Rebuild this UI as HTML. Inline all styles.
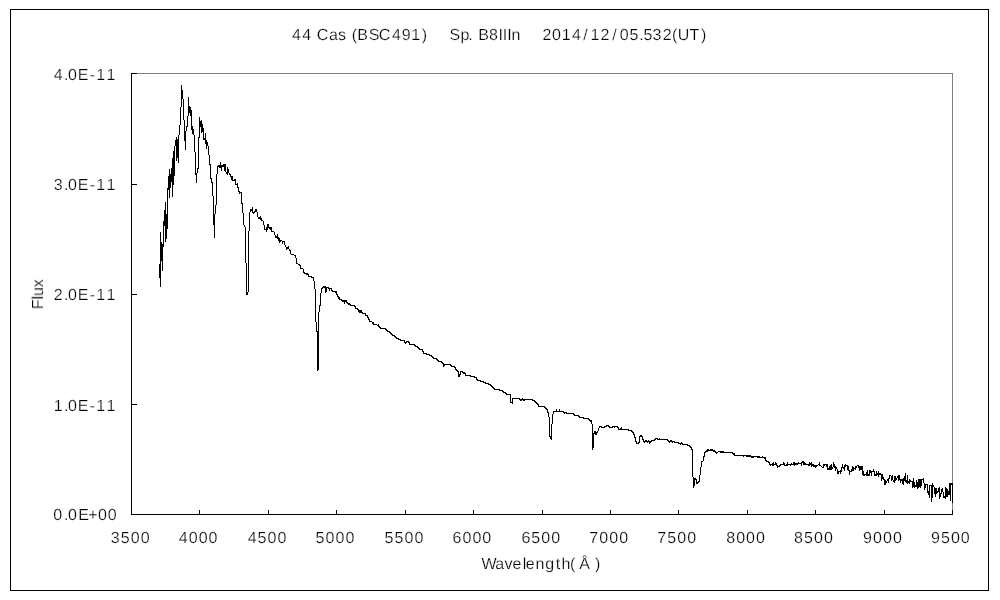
<!DOCTYPE html>
<html><head><meta charset="utf-8"><title>44 Cas spectrum</title>
<style>
html,body{margin:0;padding:0;background:#fff;}
body{width:1000px;height:600px;overflow:hidden;font-family:"Liberation Sans",sans-serif;}
svg{display:block;}
</style></head><body>
<svg width="1000" height="600" viewBox="0 0 1000 600">
<rect x="0" y="0" width="1000" height="600" fill="#fff"/>
<g shape-rendering="crispEdges" fill="none">
<rect x="10.5" y="9.5" width="978" height="581" stroke="#000" stroke-width="1"/>
<path d="M131 73.5 H953 M952.5 73 V515" stroke="#808080" stroke-width="1"/>
<path d="M131.5 73 V515 M131 514.5 H953" stroke="#000" stroke-width="1"/>
<path d="M131 73.5 H137 M131 184.5 H137 M131 294.5 H137 M131 404.5 H137 M131 514.5 H137 M131.5 510 V515 M199.5 510 V515 M268.5 510 V515 M336.5 510 V515 M405.5 510 V515 M473.5 510 V515 M542.5 510 V515 M610.5 510 V515 M678.5 510 V515 M747.5 510 V515 M815.5 510 V515 M884.5 510 V515 M952.5 510 V515 " stroke="#000" stroke-width="1"/>
</g>
<path d="M159 264v14h1v-14zM160 232v55h1v-55zM161 242v19h1v-19zM162 244v27h1v-27zM163 221v26h1v-26zM164 210v16h1v-16zM165 202v40h1v-40zM166 214v25h1v-25zM167 188v41h1v-41zM168 176v14h1v-14zM169 169v29h1v-29zM170 174v14h1v-14zM171 168v14h1v-14zM172 158v39h1v-39zM173 151v34h1v-34zM174 146v30h1v-30zM175 140v6h1v-6zM176 137v24h1v-24zM177 139v19h1v-19zM178 135v28h1v-28zM179 125v10h1v-10zM180 107v18h1v-18zM181 85v22h1v-22zM182 90v9h1v-9zM183 99v21h1v-21zM184 120v21h1v-21zM185 131v19h1v-19zM186 126v5h1v-5zM187 116v11h1v-11zM188 97v19h1v-19zM189 106v7h1v-7zM190 107v9h1v-9zM191 110v20h1v-20zM192 126v8h1v-8zM193 129v6h1v-6zM194 135v17h1v-17zM195 152v23h1v-23zM196 173v10h1v-10zM197 168v5h1v-5zM198 137v32h1v-32zM199 117v21h1v-21zM200 121v6h1v-6zM201 120v13h1v-13zM202 124v8h1v-8zM203 128v12h1v-12zM204 138v2h1v-2zM205 133v11h1v-11zM206 140v9h1v-9zM207 142v4h1v-4zM208 146v9h1v-9zM209 155v10h1v-10zM210 164v15h1v-15zM211 178v5h1v-5zM212 182v14h1v-14zM213 196v29h1v-29zM214 214v24h1v-24zM215 205v9h1v-9zM216 174v31h1v-31zM217 166v8h1v-8zM218 165v2h1v-2zM219 165v3h1v-3zM220 162v6h1v-6zM221 165v6h1v-6zM222 165v2h1v-2zM223 164v3h1v-3zM224 164v7h1v-7zM225 164v8h1v-8zM226 172v2h1v-2zM227 167v8h1v-8zM228 169v4h1v-4zM229 173v2h1v-2zM230 174v3h1v-3zM231 176v4h1v-4zM232 176v5h1v-5zM233 180v1h1v-1zM234 179v2h1v-2zM235 179v6h1v-6zM236 184v1h1v-1zM237 183v5h1v-5zM238 187v5h1v-5zM239 191v3h1v-3zM240 192v1h1v-1zM241 192v12h1v-12zM242 203v10h1v-10zM243 213v12h1v-12zM244 225v2h1v-2zM245 227v36h1v-36zM246 263v32h1v-32zM247 292v3h1v-3zM248 231v61h1v-61zM249 212v19h1v-19zM250 209v3h1v-3zM251 209v2h1v-2zM252 207v6h1v-6zM253 212v2h1v-2zM254 211v2h1v-2zM255 209v3h1v-3zM256 209v3h1v-3zM257 212v5h1v-5zM258 217v2h1v-2zM259 217v2h1v-2zM260 216v4h1v-4zM261 218v3h1v-3zM262 220v1h1v-1zM263 221v4h1v-4zM264 225v5h1v-5zM265 229v1h1v-1zM266 227v5h1v-5zM267 224v6h1v-6zM268 224v4h1v-4zM269 227v2h1v-2zM270 227v3h1v-3zM271 227v5h1v-5zM272 231v1h1v-1zM273 231v1h1v-1zM274 232v3h1v-3zM275 235v3h1v-3zM276 236v2h1v-2zM277 234v5h1v-5zM278 237v4h1v-4zM279 238v5h1v-5zM280 240v2h1v-2zM281 240v1h1v-1zM282 241v3h1v-3zM283 241v1h1v-1zM284 241v4h1v-4zM285 245v2h1v-2zM286 247v3h1v-3zM287 247v2h1v-2zM288 246v3h1v-3zM289 249v2h1v-2zM290 250v4h1v-4zM291 254v1h1v-1zM292 254v1h1v-1zM293 254v1h1v-1zM294 255v1h1v-1zM295 255v3h1v-3zM296 258v6h1v-6zM297 263v1h1v-1zM298 264v1h1v-1zM299 264v2h1v-2zM300 265v4h1v-4zM301 268v1h1v-1zM302 268v1h1v-1zM303 269v4h1v-4zM304 272v2h1v-2zM305 273v1h1v-1zM306 273v2h1v-2zM307 273v2h1v-2zM308 274v3h1v-3zM309 276v1h1v-1zM310 276v1h1v-1zM311 276v2h1v-2zM312 277v1h1v-1zM313 277v4h1v-4zM314 281v8h1v-8zM315 289v33h1v-33zM316 322v10h1v-10zM317 331v40h1v-40zM318 312v58h1v-58zM319 305v7h1v-7zM320 293v13h1v-13zM321 288v5h1v-5zM322 287v2h1v-2zM323 286v2h1v-2zM324 286v2h1v-2zM325 286v7h1v-7zM326 287v5h1v-5zM327 287v1h1v-1zM328 287v2h1v-2zM329 288v3h1v-3zM330 288v1h1v-1zM331 288v3h1v-3zM332 290v2h1v-2zM333 291v1h1v-1zM334 291v1h1v-1zM335 291v2h1v-2zM336 291v4h1v-4zM337 294v3h1v-3zM338 296v3h1v-3zM339 297v3h1v-3zM340 299v1h1v-1zM341 299v2h1v-2zM342 300v2h1v-2zM343 300v2h1v-2zM344 300v4h1v-4zM345 300v2h1v-2zM346 300v3h1v-3zM347 302v2h1v-2zM348 303v2h1v-2zM349 303v2h1v-2zM350 304v2h1v-2zM351 305v1h1v-1zM352 305v1h1v-1zM353 305v1h1v-1zM354 305v2h1v-2zM355 306v3h1v-3zM356 308v1h1v-1zM357 308v2h1v-2zM358 309v3h1v-3zM359 310v3h1v-3zM360 310v3h1v-3zM361 310v3h1v-3zM362 312v2h1v-2zM363 313v1h1v-1zM364 313v1h1v-1zM365 313v3h1v-3zM366 315v1h1v-1zM367 315v3h1v-3zM368 317v3h1v-3zM369 319v3h1v-3zM370 321v1h1v-1zM371 321v1h1v-1zM372 322v2h1v-2zM373 322v3h1v-3zM374 324v1h1v-1zM375 324v1h1v-1zM376 324v1h1v-1zM377 325v1h1v-1zM378 324v3h1v-3zM379 326v2h1v-2zM380 327v2h1v-2zM381 328v1h1v-1zM382 328v1h1v-1zM383 328v1h1v-1zM384 328v1h1v-1zM385 328v2h1v-2zM386 329v2h1v-2zM387 330v2h1v-2zM388 331v1h1v-1zM389 331v2h1v-2zM390 332v2h1v-2zM391 333v2h1v-2zM392 334v2h1v-2zM393 335v1h1v-1zM394 335v2h1v-2zM395 336v2h1v-2zM396 337v2h1v-2zM397 338v1h1v-1zM398 338v2h1v-2zM399 339v1h1v-1zM400 339v2h1v-2zM401 340v1h1v-1zM402 340v1h1v-1zM403 340v1h1v-1zM404 340v3h1v-3zM405 342v2h1v-2zM406 341v2h1v-2zM407 341v1h1v-1zM408 341v2h1v-2zM409 342v3h1v-3zM410 344v1h1v-1zM411 344v1h1v-1zM412 344v1h1v-1zM413 344v1h1v-1zM414 344v2h1v-2zM415 345v2h1v-2zM416 346v1h1v-1zM417 346v2h1v-2zM418 347v2h1v-2zM419 348v2h1v-2zM420 349v1h1v-1zM421 349v1h1v-1zM422 349v3h1v-3zM423 351v3h1v-3zM424 353v1h1v-1zM425 353v1h1v-1zM426 353v2h1v-2zM427 354v1h1v-1zM428 354v1h1v-1zM429 354v2h1v-2zM430 355v1h1v-1zM431 355v2h1v-2zM432 356v2h1v-2zM433 357v2h1v-2zM434 358v1h1v-1zM435 358v1h1v-1zM436 358v2h1v-2zM437 359v2h1v-2zM438 360v2h1v-2zM439 361v1h1v-1zM440 361v1h1v-1zM441 361v2h1v-2zM442 362v2h1v-2zM443 363v4h1v-4zM444 364v2h1v-2zM445 364v1h1v-1zM446 364v1h1v-1zM447 364v1h1v-1zM448 364v1h1v-1zM449 364v1h1v-1zM450 364v2h1v-2zM451 365v2h1v-2zM452 366v1h1v-1zM453 366v1h1v-1zM454 366v2h1v-2zM455 367v3h1v-3zM456 369v2h1v-2zM457 370v2h1v-2zM458 371v6h1v-6zM459 374v3h1v-3zM460 371v4h1v-4zM461 371v1h1v-1zM462 371v2h1v-2zM463 372v2h1v-2zM464 372v2h1v-2zM465 373v3h1v-3zM466 375v1h1v-1zM467 375v1h1v-1zM468 375v1h1v-1zM469 375v1h1v-1zM470 375v2h1v-2zM471 376v1h1v-1zM472 376v1h1v-1zM473 376v1h1v-1zM474 376v2h1v-2zM475 377v1h1v-1zM476 377v3h1v-3zM477 379v2h1v-2zM478 380v1h1v-1zM479 380v1h1v-1zM480 380v2h1v-2zM481 381v1h1v-1zM482 381v1h1v-1zM483 381v2h1v-2zM484 382v1h1v-1zM485 382v2h1v-2zM486 383v1h1v-1zM487 383v1h1v-1zM488 383v2h1v-2zM489 384v1h1v-1zM490 384v2h1v-2zM491 385v2h1v-2zM492 386v2h1v-2zM493 387v2h1v-2zM494 388v2h1v-2zM495 389v1h1v-1zM496 389v1h1v-1zM497 389v1h1v-1zM498 389v1h1v-1zM499 389v2h1v-2zM500 390v1h1v-1zM501 390v1h1v-1zM502 390v2h1v-2zM503 391v2h1v-2zM504 392v1h1v-1zM505 392v2h1v-2zM506 393v2h1v-2zM507 394v1h1v-1zM508 394v1h1v-1zM509 394v1h1v-1zM510 394v9h1v-9zM511 402v1h1v-1zM512 398v6h1v-6zM513 398v1h1v-1zM514 398v1h1v-1zM515 398v1h1v-1zM516 398v1h1v-1zM517 398v1h1v-1zM518 398v1h1v-1zM519 398v2h1v-2zM520 399v2h1v-2zM521 399v2h1v-2zM522 398v2h1v-2zM523 399v2h1v-2zM524 399v2h1v-2zM525 399v1h1v-1zM526 399v1h1v-1zM527 399v1h1v-1zM528 399v1h1v-1zM529 399v1h1v-1zM530 399v1h1v-1zM531 399v1h1v-1zM532 399v2h1v-2zM533 400v1h1v-1zM534 400v2h1v-2zM535 401v2h1v-2zM536 402v2h1v-2zM537 403v2h1v-2zM538 404v3h1v-3zM539 406v1h1v-1zM540 406v1h1v-1zM541 406v1h1v-1zM542 406v1h1v-1zM543 406v1h1v-1zM544 406v2h1v-2zM545 407v2h1v-2zM546 408v2h1v-2zM547 409v4h1v-4zM548 412v5h1v-5zM549 417v20h1v-20zM550 436v3h1v-3zM551 424v16h1v-16zM552 414v10h1v-10zM553 411v3h1v-3zM554 411v1h1v-1zM555 411v1h1v-1zM556 409v3h1v-3zM557 411v1h1v-1zM558 411v1h1v-1zM559 409v3h1v-3zM560 411v1h1v-1zM561 411v1h1v-1zM562 411v1h1v-1zM563 411v2h1v-2zM564 412v2h1v-2zM565 412v1h1v-1zM566 412v2h1v-2zM567 413v1h1v-1zM568 413v1h1v-1zM569 413v1h1v-1zM570 413v1h1v-1zM571 413v1h1v-1zM572 413v1h1v-1zM573 413v2h1v-2zM574 414v2h1v-2zM575 415v1h1v-1zM576 415v1h1v-1zM577 415v1h1v-1zM578 415v2h1v-2zM579 416v2h1v-2zM580 417v1h1v-1zM581 417v1h1v-1zM582 417v1h1v-1zM583 417v2h1v-2zM584 418v1h1v-1zM585 418v1h1v-1zM586 418v1h1v-1zM587 418v1h1v-1zM588 418v2h1v-2zM589 419v2h1v-2zM590 420v2h1v-2zM591 420v4h1v-4zM592 424v26h1v-26zM593 433v15h1v-15zM594 431v3h1v-3zM595 431v4h1v-4zM596 432v3h1v-3zM597 431v2h1v-2zM598 428v3h1v-3zM599 426v2h1v-2zM600 426v1h1v-1zM601 426v2h1v-2zM602 427v1h1v-1zM603 427v1h1v-1zM604 426v2h1v-2zM605 426v1h1v-1zM606 425v2h1v-2zM607 425v1h1v-1zM608 425v2h1v-2zM609 426v2h1v-2zM610 427v1h1v-1zM611 427v1h1v-1zM612 426v2h1v-2zM613 426v1h1v-1zM614 426v2h1v-2zM615 426v1h1v-1zM616 426v1h1v-1zM617 426v2h1v-2zM618 427v3h1v-3zM619 429v1h1v-1zM620 428v2h1v-2zM621 427v3h1v-3zM622 429v1h1v-1zM623 429v1h1v-1zM624 429v1h1v-1zM625 429v1h1v-1zM626 429v1h1v-1zM627 429v1h1v-1zM628 429v2h1v-2zM629 430v1h1v-1zM630 430v1h1v-1zM631 430v2h1v-2zM632 431v2h1v-2zM633 432v3h1v-3zM634 434v4h1v-4zM635 437v5h1v-5zM636 441v3h1v-3zM637 443v1h1v-1zM638 442v2h1v-2zM639 436v7h1v-7zM640 435v2h1v-2zM641 435v2h1v-2zM642 436v4h1v-4zM643 439v3h1v-3zM644 441v2h1v-2zM645 440v2h1v-2zM646 440v2h1v-2zM647 441v2h1v-2zM648 440v2h1v-2zM649 441v3h1v-3zM650 441v2h1v-2zM651 440v2h1v-2zM652 440v1h1v-1zM653 440v1h1v-1zM654 439v2h1v-2zM655 438v2h1v-2zM656 438v1h1v-1zM657 438v2h1v-2zM658 439v1h1v-1zM659 438v2h1v-2zM660 439v1h1v-1zM661 439v1h1v-1zM662 439v1h1v-1zM663 439v1h1v-1zM664 439v1h1v-1zM665 439v1h1v-1zM666 439v1h1v-1zM667 439v2h1v-2zM668 440v2h1v-2zM669 441v2h1v-2zM670 440v2h1v-2zM671 440v2h1v-2zM672 441v2h1v-2zM673 441v1h1v-1zM674 441v2h1v-2zM675 442v1h1v-1zM676 442v1h1v-1zM677 442v1h1v-1zM678 442v2h1v-2zM679 443v1h1v-1zM680 443v2h1v-2zM681 442v2h1v-2zM682 443v2h1v-2zM683 444v1h1v-1zM684 444v1h1v-1zM685 444v1h1v-1zM686 444v1h1v-1zM687 444v2h1v-2zM688 445v1h1v-1zM689 445v2h1v-2zM690 446v2h1v-2zM691 447v3h1v-3zM692 449v28h1v-28zM693 477v11h1v-11zM694 478v8h1v-8zM695 478v2h1v-2zM696 479v5h1v-5zM697 482v2h1v-2zM698 481v2h1v-2zM699 475v7h1v-7zM700 467v8h1v-8zM701 461v6h1v-6zM702 461v1h1v-1zM703 456v5h1v-5zM704 452v5h1v-5zM705 451v2h1v-2zM706 450v2h1v-2zM707 449v3h1v-3zM708 449v2h1v-2zM709 450v1h1v-1zM710 449v2h1v-2zM711 449v2h1v-2zM712 449v2h1v-2zM713 450v2h1v-2zM714 450v2h1v-2zM715 451v2h1v-2zM716 452v2h1v-2zM717 452v1h1v-1zM718 451v1h1v-1zM719 451v1h1v-1zM720 451v2h1v-2zM721 451v2h1v-2zM722 451v2h1v-2zM723 451v2h1v-2zM724 452v1h1v-1zM725 452v1h1v-1zM726 452v1h1v-1zM727 452v1h1v-1zM728 452v1h1v-1zM729 452v1h1v-1zM730 452v1h1v-1zM731 452v1h1v-1zM732 452v2h1v-2zM733 453v2h1v-2zM734 453v3h1v-3zM735 455v1h1v-1zM736 455v1h1v-1zM737 455v1h1v-1zM738 455v1h1v-1zM739 455v1h1v-1zM740 455v1h1v-1zM741 455v1h1v-1zM742 455v1h1v-1zM743 455v2h1v-2zM744 455v1h1v-1zM745 455v1h1v-1zM746 455v2h1v-2zM747 455v2h1v-2zM748 455v2h1v-2zM749 455v2h1v-2zM750 455v2h1v-2zM751 456v2h1v-2zM752 456v2h1v-2zM753 456v2h1v-2zM754 456v1h1v-1zM755 456v1h1v-1zM756 456v1h1v-1zM757 456v2h1v-2zM758 456v2h1v-2zM759 456v2h1v-2zM760 457v1h1v-1zM761 457v1h1v-1zM762 456v2h1v-2zM763 457v1h1v-1zM764 457v2h1v-2zM765 457v4h1v-4zM766 460v2h1v-2zM767 461v1h1v-1zM768 461v2h1v-2zM769 462v3h1v-3zM770 464v2h1v-2zM771 464v1h1v-1zM772 463v3h1v-3zM773 462v4h1v-4zM774 464v1h1v-1zM775 462v3h1v-3zM776 463v3h1v-3zM777 465v3h1v-3zM778 466v1h1v-1zM779 465v2h1v-2zM780 464v2h1v-2zM781 464v1h1v-1zM782 464v1h1v-1zM783 462v3h1v-3zM784 463v3h1v-3zM785 465v1h1v-1zM786 464v2h1v-2zM787 462v4h1v-4zM788 464v1h1v-1zM789 464v1h1v-1zM790 464v2h1v-2zM791 463v2h1v-2zM792 464v1h1v-1zM793 462v3h1v-3zM794 462v4h1v-4zM795 463v2h1v-2zM796 463v2h1v-2zM797 463v2h1v-2zM798 462v2h1v-2zM799 463v1h1v-1zM800 463v1h1v-1zM801 462v4h1v-4zM802 461v2h1v-2zM803 461v4h1v-4zM804 462v3h1v-3zM805 463v2h1v-2zM806 464v1h1v-1zM807 464v1h1v-1zM808 464v2h1v-2zM809 462v4h1v-4zM810 463v2h1v-2zM811 462v5h1v-5zM812 464v2h1v-2zM813 464v3h1v-3zM814 465v2h1v-2zM815 465v3h1v-3zM816 465v2h1v-2zM817 465v1h1v-1zM818 464v1h1v-1zM819 462v4h1v-4zM820 465v1h1v-1zM821 466v1h1v-1zM822 467v1h1v-1zM823 464v4h1v-4zM824 464v2h1v-2zM825 464v1h1v-1zM826 464v3h1v-3zM827 464v6h1v-6zM828 468v2h1v-2zM829 466v4h1v-4zM830 465v5h1v-5zM831 464v6h1v-6zM832 467v2h1v-2zM833 462v5h1v-5zM834 464v4h1v-4zM835 466v5h1v-5zM836 467v2h1v-2zM837 469v5h1v-5zM838 471v3h1v-3zM839 471v1h1v-1zM840 470v4h1v-4zM841 467v5h1v-5zM842 464v4h1v-4zM843 467v2h1v-2zM844 465v6h1v-6zM845 464v3h1v-3zM846 465v1h1v-1zM847 465v5h1v-5zM848 466v5h1v-5zM849 470v5h1v-5zM850 471v1h1v-1zM851 469v3h1v-3zM852 466v5h1v-5zM853 467v4h1v-4zM854 468v1h1v-1zM855 466v4h1v-4zM856 466v2h1v-2zM857 465v1h1v-1zM858 465v3h1v-3zM859 466v5h1v-5zM860 466v4h1v-4zM861 466v4h1v-4zM862 466v9h1v-9zM863 471v5h1v-5zM864 474v2h1v-2zM865 474v1h1v-1zM866 472v4h1v-4zM867 470v6h1v-6zM868 474v2h1v-2zM869 470v6h1v-6zM870 470v3h1v-3zM871 471v5h1v-5zM872 471v1h1v-1zM873 469v3h1v-3zM874 471v5h1v-5zM875 474v2h1v-2zM876 471v5h1v-5zM877 473v2h1v-2zM878 471v6h1v-6zM879 473v2h1v-2zM880 473v2h1v-2zM881 474v7h1v-7zM882 474v5h1v-5zM883 477v3h1v-3zM884 479v6h1v-6zM885 480v5h1v-5zM886 481v2h1v-2zM887 479v2h1v-2zM888 478v5h1v-5zM889 475v4h1v-4zM890 475v1h1v-1zM891 476v5h1v-5zM892 475v5h1v-5zM893 480v2h1v-2zM894 476v7h1v-7zM895 476v5h1v-5zM896 478v2h1v-2zM897 476v2h1v-2zM898 475v6h1v-6zM899 475v5h1v-5zM900 479v4h1v-4zM901 479v2h1v-2zM902 479v5h1v-5zM903 478v7h1v-7zM904 476v5h1v-5zM905 473v9h1v-9zM906 480v3h1v-3zM907 475v9h1v-9zM908 481v2h1v-2zM909 479v5h1v-5zM910 480v2h1v-2zM911 481v1h1v-1zM912 481v7h1v-7zM913 478v9h1v-9zM914 482v6h1v-6zM915 485v2h1v-2zM916 480v7h1v-7zM917 482v7h1v-7zM918 479v9h1v-9zM919 479v8h1v-8zM920 479v9h1v-9zM921 479v7h1v-7zM922 479v1h1v-1zM923 478v5h1v-5zM924 483v7h1v-7zM925 484v4h1v-4zM926 484v1h1v-1zM927 484v9h1v-9zM928 491v4h1v-4zM929 485v13h1v-13zM930 485v1h1v-1zM931 485v17h1v-17zM932 483v15h1v-15zM933 485v2h1v-2zM934 487v7h1v-7zM935 488v9h1v-9zM936 488v6h1v-6zM937 491v2h1v-2zM938 488v4h1v-4zM939 487v12h1v-12zM940 493v4h1v-4zM941 489v5h1v-5zM942 488v4h1v-4zM943 492v6h1v-6zM944 496v2h1v-2zM945 487v12h1v-12zM946 488v9h1v-9zM947 489v8h1v-8zM948 491v4h1v-4zM949 483v12h1v-12zM950 483v18h1v-18zM951 483v2h1v-2zM952 483v20h1v-20z" fill="#000" shape-rendering="crispEdges"/>
<g opacity="0.999" font-family="'Liberation Sans', sans-serif" font-size="16" fill="#000" stroke="#fff" stroke-width="0.24" paint-order="fill stroke" text-rendering="geometricPrecision">
<text y="40" x="292.1 302.2">44</text>
<text y="40" x="316.7 329.1 338.1">Cas</text>
<text y="40" x="351.7 357.3 368.7 378.8 392 401.65 411.15 421.8">(BSC491)</text>
<text y="40" x="449.6 460.5 468.3">Sp.</text>
<text y="40" x="478.2 488.95 498.6 502.8 507.2 511.5">B8IIIn</text>
<text y="40" x="542.45 551.95 561.7 572 583.3 590.5 600.55 612.2 619.75 629.55 639.2 643.55 652.6 662.65">2014/12/05.532</text>
<text y="40" x="671.9 677.8 689.5 701">(UT)</text>
<text y="80" x="53.85 63.9 68.05 77.85 89.85 96.3 106.5">4.0E-11</text>
<text y="190" x="53.85 63.9 68.05 77.85 89.85 96.3 106.5">3.0E-11</text>
<text y="300" x="53.85 63.9 68.05 77.85 89.85 96.3 106.5">2.0E-11</text>
<text y="411" x="53.85 63.9 68.05 77.85 89.85 96.3 106.5">1.0E-11</text>
<text y="520" x="53.25 63.9 68.05 78.15 88.3 98.05 107.85">0.0E+00</text>
<text x="110.8" y="543" textLength="38.8" lengthAdjust="spacing">3500</text>
<text x="178.73" y="543" textLength="38.8" lengthAdjust="spacing">4000</text>
<text x="247.66" y="543" textLength="38.8" lengthAdjust="spacing">4500</text>
<text x="315.59" y="543" textLength="38.8" lengthAdjust="spacing">5000</text>
<text x="384.52" y="543" textLength="38.8" lengthAdjust="spacing">5500</text>
<text x="452.45" y="543" textLength="38.8" lengthAdjust="spacing">6000</text>
<text x="521.38" y="543" textLength="38.8" lengthAdjust="spacing">6500</text>
<text x="589.31" y="543" textLength="38.8" lengthAdjust="spacing">7000</text>
<text x="657.24" y="543" textLength="38.8" lengthAdjust="spacing">7500</text>
<text x="726.17" y="543" textLength="38.8" lengthAdjust="spacing">8000</text>
<text x="794.1" y="543" textLength="38.8" lengthAdjust="spacing">8500</text>
<text x="863.03" y="543" textLength="38.8" lengthAdjust="spacing">9000</text>
<text x="930.96" y="543" textLength="38.8" lengthAdjust="spacing">9500</text>
<text y="569" x="481.5 495.3 504.4 512.6 522.8 525.7 535.6 545.3 555.7 561.4 569.9 579.2 594.9">Wavelength(Å)</text>
<text transform="translate(43,309.3) rotate(-90)" x="0" y="0" textLength="30" lengthAdjust="spacing">Flux</text>
</g>
</svg>
</body></html>
